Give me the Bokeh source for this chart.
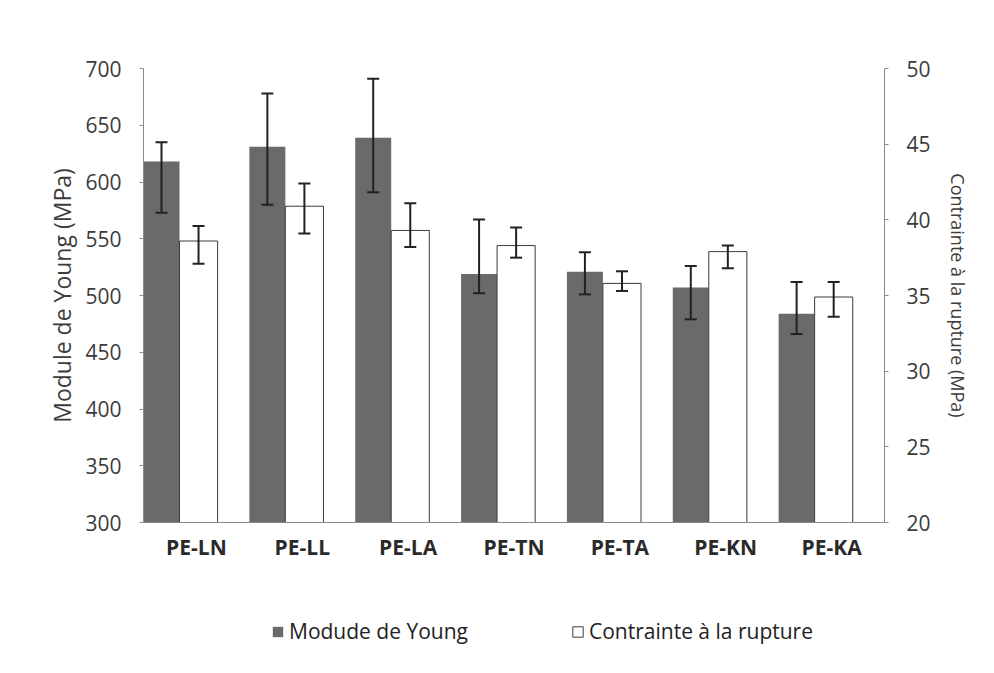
from bokeh.plotting import figure
from bokeh.layouts import column
from bokeh.models import (FactorRange, Range1d, LinearAxis, Whisker, ColumnDataSource,
                          Legend, LegendItem, FixedTicker, TeeHead)
from bokeh.transform import dodge
from bokeh.embed import file_html
from bokeh.resources import INLINE

categories = ["PE-LN", "PE-LL", "PE-LA", "PE-TN", "PE-TA", "PE-KN", "PE-KA"]
young = [618, 631, 639, 519, 521, 507, 484]
young_lo = [573, 580, 591, 502, 501, 479, 466]
young_hi = [635, 678, 691, 567, 538, 526, 512]
rupture = [38.6, 40.9, 39.3, 38.3, 35.8, 37.9, 34.9]
rupture_lo = [37.1, 39.1, 38.2, 37.5, 35.3, 36.8, 33.6]
rupture_hi = [39.6, 42.4, 41.1, 39.5, 36.6, 38.3, 35.9]
left_ticks = [300, 350, 400, 450, 500, 550, 600, 650, 700]
right_ticks = [20, 25, 30, 35, 40, 45, 50]
series_names = ["Modude de Young", "Contrainte à la rupture"]

src = ColumnDataSource(dict(cat=categories, young=young, young_lo=young_lo, young_hi=young_hi,
                            rupture=rupture, rupture_lo=rupture_lo, rupture_hi=rupture_hi))

FONT = "Open Sans"
TXT = "#3c3c3c"
GRAY = "#6a6a6a"

p = figure(width=978, height=575, output_backend="svg", toolbar_location=None,
           x_range=FactorRange(factors=categories, range_padding=0),
           y_range=Range1d(left_ticks[0], left_ticks[-1]),
           min_border_left=143, min_border_right=94, min_border_top=68, min_border_bottom=53)
p.extra_y_ranges = {"right": Range1d(right_ticks[0], right_ticks[-1])}
p.outline_line_color = None
p.xgrid.grid_line_color = None
p.ygrid.grid_line_color = None

r1 = p.vbar(x=dodge("cat", -0.33, range=p.x_range), top="young", bottom=left_ticks[0], width=0.34,
            source=src, fill_color=GRAY, line_color=None)
r2 = p.vbar(x=dodge("cat", 0.02, range=p.x_range), top="rupture", bottom=right_ticks[0], width=0.36,
            source=src, fill_color="white", line_color="#3a3a3a", line_width=1, y_range_name="right")

w1 = Whisker(base=dodge("cat", -0.33, range=p.x_range), upper="young_hi", lower="young_lo", source=src,
             line_color="#222222", line_width=2, level="overlay",
             upper_head=TeeHead(size=12, line_width=2, line_color="#222222"),
             lower_head=TeeHead(size=12, line_width=2, line_color="#222222"))
w2 = Whisker(base=dodge("cat", 0.02, range=p.x_range), upper="rupture_hi", lower="rupture_lo", source=src,
             line_color="#222222", line_width=2, y_range_name="right", level="overlay",
             upper_head=TeeHead(size=12, line_width=2, line_color="#222222"),
             lower_head=TeeHead(size=12, line_width=2, line_color="#222222"))
p.add_layout(w1)
p.add_layout(w2)

# left axis
ya = p.yaxis[0]
ya.ticker = FixedTicker(ticks=left_ticks)
ya.axis_label = "Module de Young (MPa)"
ya.axis_label_text_font = FONT
ya.axis_label_text_font_style = "normal"
ya.axis_label_text_font_size = "23px"
ya.axis_label_text_color = TXT
ya.axis_label_standoff = 4
ya.major_label_text_font = FONT
ya.major_label_text_font_size = "21px"
ya.major_label_text_color = TXT
ya.major_label_standoff = 18
ya.axis_line_color = "#8a8a8a"
ya.major_tick_line_color = "#8a8a8a"
ya.major_tick_out = 4
ya.major_tick_in = 0
ya.minor_tick_line_color = None

# right axis
ra = LinearAxis(y_range_name="right", ticker=FixedTicker(ticks=right_ticks))
ra.axis_label = "Contrainte à la rupture (MPa)"
ra.axis_label_text_font = FONT
ra.axis_label_text_font_style = "normal"
ra.axis_label_text_font_size = "18px"
ra.axis_label_text_color = TXT
ra.axis_label_standoff = 12
ra.major_label_text_font = FONT
ra.major_label_text_font_size = "21px"
ra.major_label_text_color = TXT
ra.major_label_standoff = 18
ra.axis_line_color = "#8a8a8a"
ra.major_tick_line_color = "#8a8a8a"
ra.major_tick_out = 4
ra.major_tick_in = 0
ra.minor_tick_line_color = None
p.add_layout(ra, "right")

# x axis
xa = p.xaxis[0]
xa.major_label_text_font = FONT
xa.major_label_text_font_style = "bold"
xa.major_label_text_font_size = "21px"
xa.major_label_text_color = "#2a2a2a"
xa.major_label_standoff = 4
xa.axis_line_color = "#8a8a8a"
xa.major_tick_line_color = None
xa.minor_tick_line_color = None

# legend strip below the chart (its renderers are hidden; only the legend shows)
lg = figure(width=978, height=82, output_backend="svg", toolbar_location=None,
            x_range=FactorRange(factors=categories, range_padding=0), y_range=Range1d(0, 1),
            min_border=0, outline_line_color=None)
lg.axis.visible = False
lg.grid.visible = False
d1 = lg.vbar(x=dodge("cat", -0.33, range=lg.x_range), top="young", bottom=left_ticks[0], width=0.34,
             source=src, fill_color=GRAY, line_color=None, visible=False)
d2 = lg.vbar(x=dodge("cat", 0.02, range=lg.x_range), top="young", bottom=left_ticks[0], width=0.36,
             source=src, fill_color="white", line_color="#3a3a3a", visible=False)
legend = Legend(items=[LegendItem(label=series_names[0], renderers=[d1]),
                       LegendItem(label=series_names[1], renderers=[d2])],
                orientation="horizontal", location=(128, 12), padding=0, margin=0,
                label_text_font=FONT, label_text_font_size="21px", label_text_color="#222222",
                glyph_width=13, glyph_height=13, label_standoff=5, spacing=103,
                inactive_fill_alpha=0,
                border_line_color=None, background_fill_alpha=0)
lg.add_layout(legend)

open("out.html", "w").write(file_html(column(p, lg, spacing=0), INLINE))
